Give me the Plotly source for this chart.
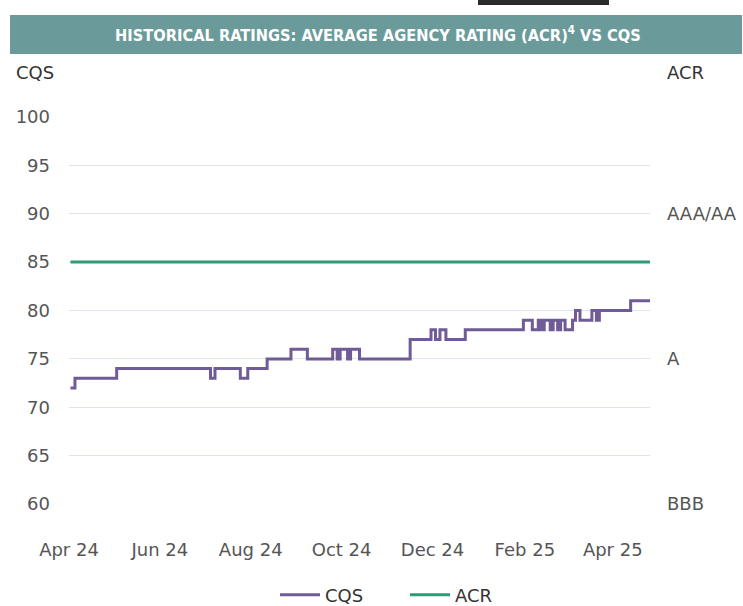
import plotly.graph_objects as go

# CQS step series (date of change, value)
cqs_dates = ["2024-04-02", "2024-04-05", "2024-05-03", "2024-07-05", "2024-07-08",
             "2024-07-25", "2024-07-30", "2024-08-12", "2024-08-28", "2024-09-08",
             "2024-09-25", "2024-09-28", "2024-09-30", "2024-10-05", "2024-10-07",
             "2024-10-13", "2024-11-16", "2024-11-30", "2024-12-03", "2024-12-06",
             "2024-12-10", "2024-12-23", "2025-01-31", "2025-02-06", "2025-02-10",
             "2025-02-12", "2025-02-14", "2025-02-18", "2025-02-20", "2025-02-23",
             "2025-02-25", "2025-02-28", "2025-03-05", "2025-03-07", "2025-03-10",
             "2025-03-18", "2025-03-21", "2025-03-23", "2025-04-13", "2025-04-26"]
cqs_values = [72, 73, 74, 73, 74,
              73, 74, 75, 76, 75,
              76, 75, 76, 75, 76,
              75, 77, 78, 77, 78,
              77, 78, 79, 78, 79,
              78, 79, 78, 79, 78,
              79, 78, 79, 80, 79,
              80, 79, 80, 81, 81]

acr_dates = ["2024-04-02", "2025-04-26"]
acr_values = [85, 85]

left_ticks = [60, 65, 70, 75, 80, 85, 90, 95, 100]
right_tickvals = [60, 75, 90]
right_ticktext = ["BBB", "A", "AAA/AA"]

title_text = "HISTORICAL RATINGS: AVERAGE AGENCY RATING (ACR)<sup>4</sup> VS CQS"

PURPLE = "#6f5b95"
GREEN = "#2e9b77"
GRID = "#dfe4ea"
AXIS_FONT = dict(family="DejaVu Sans", size=18, color="#555555")

fig = go.Figure()
fig.add_trace(go.Scatter(x=cqs_dates, y=cqs_values, name="CQS", mode="lines",
                         line=dict(color=PURPLE, width=3, shape="hv")))
fig.add_trace(go.Scatter(x=acr_dates, y=acr_values, name="ACR", mode="lines",
                         line=dict(color=GREEN, width=3)))
# invisible trace for right axis
fig.add_trace(go.Scatter(x=acr_dates, y=acr_values, yaxis="y2", mode="lines",
                         line=dict(color="rgba(0,0,0,0)"), showlegend=False,
                         hoverinfo="skip"))

L, R, T, B = 69, 650, 116, 505
W, H = 743, 606

fig.update_layout(
    width=W, height=H,
    margin=dict(l=L, r=W - R, t=T, b=H - B, autoexpand=False),
    paper_bgcolor="white", plot_bgcolor="white",
    showlegend=True,
    legend=dict(orientation="h", xref="container", yref="container",
                x=405 / W, xanchor="center", y=(H - 595) / H, yanchor="middle",
                font=dict(family="DejaVu Sans", size=18, color="#333333"),
                itemwidth=40, tracegroupgap=0,
                entrywidth=75, entrywidthmode="pixels"),
    xaxis=dict(type="date", range=["2024-04-01", "2025-04-26"],
               tick0="2024-04-01", dtick="M2", tickformat="%b %y",
               showgrid=False, showline=False, zeroline=False, automargin=False,
               tickfont=AXIS_FONT, ticklabelstandoff=32, ticks=""),
    yaxis=dict(range=[59.9, 100.1], tickvals=left_ticks, showgrid=True,
               gridcolor=GRID, gridwidth=1, zeroline=False, showline=False,
               automargin=False,
               tickfont=AXIS_FONT, ticklabelstandoff=18, ticks=""),
    yaxis2=dict(range=[59.9, 100.1], overlaying="y", side="right",
                tickvals=right_tickvals, ticktext=right_ticktext,
                showgrid=False, zeroline=False, showline=False, automargin=False,
                tickfont=AXIS_FONT, ticklabelstandoff=16, ticks=""),
)

def px_x(p):
    return (p - L) / (R - L)

def px_y(p):
    return (B - p) / (B - T)

# title bar
fig.add_shape(type="rect", xref="paper", yref="paper",
              x0=px_x(10), x1=px_x(742), y0=px_y(54), y1=px_y(15),
              fillcolor="#6a9a99", line=dict(width=0), layer="above")
fig.add_shape(type="rect", xref="paper", yref="paper",
              x0=px_x(478), x1=px_x(609), y0=px_y(5), y1=px_y(0),
              fillcolor="#2b2b2b", line=dict(width=0), layer="above")
fig.add_annotation(text=title_text, xref="paper", yref="paper",
                   x=px_x(378), y=px_y(34), showarrow=False,
                   xanchor="center", yanchor="middle",
                   font=dict(family="Liberation Sans Narrow, DejaVu Sans Condensed, sans-serif",
                             size=16.3, color="white", weight="bold"))
fig.add_annotation(text="CQS", xref="paper", yref="paper",
                   x=px_x(14), y=px_y(73), showarrow=False,
                   xanchor="left", yanchor="middle",
                   font=dict(family="DejaVu Sans", size=18, color="#333333"))
fig.add_annotation(text="ACR", xref="paper", yref="paper",
                   x=px_x(665), y=px_y(73), showarrow=False,
                   xanchor="left", yanchor="middle",
                   font=dict(family="DejaVu Sans", size=18, color="#333333"))

fig.write_html("out.html", config={"displayModeBar": False},
               post_script="document.body.style.margin='0';document.body.style.padding='0';")
